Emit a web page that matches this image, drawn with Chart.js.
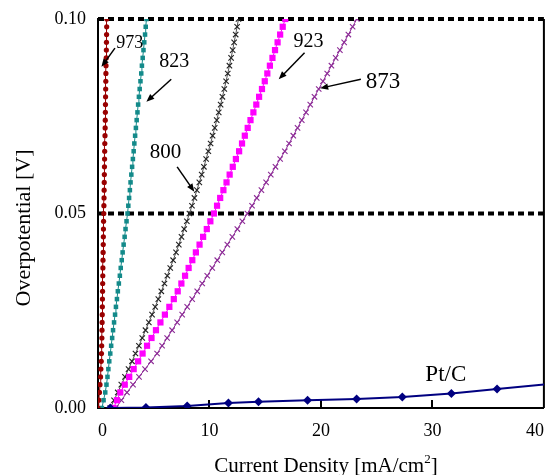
<!DOCTYPE html>
<html>
<head>
<meta charset="utf-8">
<title>Overpotential vs current density</title>
<script src="https://cdn.jsdelivr.net/npm/chart.js@4.4.1/dist/chart.umd.min.js"></script>
<style>
    html, body { margin: 0; padding: 0; background: #fff; }
    #wrap { width: 549px; height: 475px; }
</style>
</head>
<body>
<div id="wrap"><canvas id="polChart" width="549" height="475"></canvas></div>
<script>
// Overpotential grid (V) shared by the measured curves
const eta = [0, 0.002, 0.004, 0.006, 0.008, 0.010, 0.012, 0.014, 0.016, 0.018,
    0.020, 0.022, 0.024, 0.026, 0.028, 0.030, 0.032, 0.034, 0.036, 0.038,
    0.040, 0.042, 0.044, 0.046, 0.048, 0.050, 0.052, 0.054, 0.056, 0.058,
    0.060, 0.062, 0.064, 0.066, 0.068, 0.070, 0.072, 0.074, 0.076, 0.078,
    0.080, 0.082, 0.084, 0.086, 0.088, 0.090, 0.092, 0.094, 0.096, 0.098, 0.100];

// Current density (mA/cm2) at each overpotential
const j973 = [0, 0.07, 0.13, 0.18, 0.23, 0.26, 0.29, 0.31, 0.33, 0.35,
    0.36, 0.37, 0.38, 0.39, 0.40, 0.41, 0.42, 0.43, 0.44, 0.45,
    0.46, 0.47, 0.48, 0.49, 0.50, 0.52, 0.53, 0.54, 0.55, 0.56,
    0.57, 0.58, 0.59, 0.60, 0.61, 0.63, 0.64, 0.65, 0.66, 0.67,
    0.68, 0.69, 0.70, 0.71, 0.72, 0.74, 0.75, 0.76, 0.77, 0.78, 0.79];

const j823 = [0.35, 0.50, 0.65, 0.76, 0.85, 0.93, 1.01, 1.10, 1.18, 1.27,
    1.35, 1.44, 1.53, 1.61, 1.70, 1.78, 1.87, 1.96, 2.04, 2.13,
    2.21, 2.30, 2.39, 2.47, 2.56, 2.65, 2.72, 2.79, 2.86, 2.92,
    2.99, 3.06, 3.13, 3.20, 3.26, 3.33, 3.40, 3.47, 3.54, 3.60,
    3.67, 3.74, 3.81, 3.88, 3.94, 4.01, 4.08, 4.15, 4.22, 4.28, 4.35];

const j800 = [1.10, 1.44, 1.77, 2.09, 2.42, 2.74, 3.05, 3.36, 3.67, 3.97,
    4.26, 4.56, 4.85, 5.13, 5.41, 5.68, 5.96, 6.22, 6.48, 6.74,
    7.00, 7.25, 7.49, 7.73, 7.97, 8.20, 8.43, 8.65, 8.87, 9.09,
    9.30, 9.50, 9.70, 9.90, 10.10, 10.28, 10.47, 10.65, 10.83, 11.00,
    11.16, 11.33, 11.49, 11.64, 11.79, 11.94, 12.08, 12.21, 12.35, 12.48, 12.60];

const j923 = [1.4, 1.7, 2.0, 2.4, 2.8, 3.2, 3.6, 4.0, 4.4, 4.8,
    5.2, 5.6, 6.0, 6.4, 6.8, 7.15, 7.48, 7.81, 8.13, 8.46,
    8.78, 9.11, 9.43, 9.76, 10.08, 10.4, 10.68, 10.96, 11.25, 11.53,
    11.81, 12.09, 12.37, 12.66, 12.92, 13.17, 13.43, 13.68, 13.94, 14.2,
    14.45, 14.71, 14.96, 15.19, 15.42, 15.65, 15.88, 16.11, 16.34, 16.57, 16.8];

const j873 = [1.6, 2.1, 2.6, 3.14, 3.68, 4.22, 4.76, 5.3, 5.75, 6.2,
    6.65, 7.1, 7.55, 8.0, 8.45, 8.9, 9.35, 9.8, 10.25, 10.7,
    11.15, 11.6, 12.05, 12.5, 12.95, 13.4, 13.82, 14.24, 14.66, 15.08,
    15.5, 15.92, 16.34, 16.76, 17.14, 17.52, 17.9, 18.28, 18.66, 19.04,
    19.42, 19.8, 20.18, 20.56, 20.94, 21.32, 21.7, 22.08, 22.46, 22.84, 23.22];

// Pt/C benchmark
const jPtC = [1.1, 4.3, 8.0, 11.7, 14.4, 18.8, 23.2, 27.3, 31.7, 35.8, 41.0];
const etaPtC = [0, 0.0001, 0.0005, 0.0013, 0.0016, 0.0020, 0.0023, 0.0028, 0.0037, 0.0049, 0.0063];

const xTicks = [0, 10, 20, 30, 40];
const yTicks = [0, 0.05, 0.10];
// dashed guide lines
const guideLevels = [0.05, 0.10];

// Curve labels with their arrows, in data units
const callouts = [
    { text: '973', size: 18, at: [2.85, 0.0938], from: [1.52, 0.0925], to: [0.31, 0.0877] },
    { text: '823', size: 20, at: [6.83, 0.0890], from: [6.57, 0.0845], to: [4.34, 0.0787] },
    { text: '800', size: 21, at: [6.06, 0.0658], from: [7.10, 0.0620], to: [8.64, 0.0556] },
    { text: '923', size: 20, at: [18.89, 0.0941], from: [18.53, 0.0913], to: [16.21, 0.0845] },
    { text: '873', size: 23, at: [25.57, 0.0837], from: [23.58, 0.0845], to: [19.93, 0.0822] },
    { text: 'Pt/C', size: 23, at: [31.2, 0.0085] }
];

const FONT = '"Liberation Serif", "Times New Roman", serif';

document.addEventListener('DOMContentLoaded', function() {
    const ctx = document.getElementById('polChart').getContext('2d');

    // pair up x and y arrays into scatter points
    function toPoints(xs, ys) {
        return xs.map((x, i) => ({ x: x, y: ys[i] }));
    }

    function curve(label, xs, ys, color, style, radius, lineColor) {
        const crossy = style === 'crossRot';
        return {
            label: label,
            data: toPoints(xs, ys),
            showLine: true,
            borderColor: lineColor || color,
            borderWidth: 1,
            pointStyle: style,
            pointRadius: radius,
            pointBackgroundColor: color,
            pointBorderColor: color,
            pointBorderWidth: crossy ? 1.1 : 0
        };
    }

    function guide(level) {
        return {
            label: 'guide ' + level,
            data: [{ x: xTicks[0], y: level }, { x: xTicks[xTicks.length - 1], y: level }],
            showLine: true,
            clip: false,
            borderColor: '#000',
            borderWidth: 4,
            borderDash: [6, 4],
            pointRadius: 0
        };
    }

    function drawArrow(c, x1, y1, x2, y2) {
        const ang = Math.atan2(y2 - y1, x2 - x1);
        const len = 8, half = 3.2;
        c.beginPath();
        c.moveTo(x1, y1);
        c.lineTo(x2 - Math.cos(ang) * len * 0.8, y2 - Math.sin(ang) * len * 0.8);
        c.stroke();
        c.beginPath();
        c.moveTo(x2, y2);
        c.lineTo(x2 - Math.cos(ang) * len + Math.sin(ang) * half, y2 - Math.sin(ang) * len - Math.cos(ang) * half);
        c.lineTo(x2 - Math.cos(ang) * len - Math.sin(ang) * half, y2 - Math.sin(ang) * len + Math.cos(ang) * half);
        c.closePath();
        c.fill();
    }

    // keep tick labels from pushing the plot area inward
    function noEdgePadding(scale) {
        scale.paddingLeft = 0;
        scale.paddingRight = 0;
        scale.paddingTop = 0;
        scale.paddingBottom = 0;
    }

    const decorations = {
        id: 'decorations',
        beforeDatasetsDraw(chart) {
            const c = chart.ctx, a = chart.chartArea, x = chart.scales.x;
            c.save();
            c.strokeStyle = '#000';
            c.lineWidth = 2;
            c.beginPath();
            // right frame edge
            c.moveTo(a.right, a.top);
            c.lineTo(a.right, a.bottom);
            // inward tick marks on the x axis
            xTicks.slice(1, -1).forEach(v => {
                const px = Math.round(x.getPixelForValue(v));
                c.moveTo(px, a.bottom);
                c.lineTo(px, a.bottom - 8);
            });
            c.stroke();
            c.restore();
        },
        afterDatasetsDraw(chart) {
            const c = chart.ctx, x = chart.scales.x, y = chart.scales.y;
            c.save();
            c.fillStyle = '#000';
            c.strokeStyle = '#000';
            c.lineWidth = 1.5;
            callouts.forEach(item => {
                c.font = item.size + 'px ' + FONT;
                c.textAlign = 'center';
                c.textBaseline = 'middle';
                c.fillText(item.text, x.getPixelForValue(item.at[0]), y.getPixelForValue(item.at[1]));
                if (item.from) {
                    drawArrow(c,
                        x.getPixelForValue(item.from[0]), y.getPixelForValue(item.from[1]),
                        x.getPixelForValue(item.to[0]), y.getPixelForValue(item.to[1]));
                }
            });
            c.restore();
        },
        afterDraw(chart) {
            const c = chart.ctx, a = chart.chartArea;
            c.save();
            c.fillStyle = '#000';

            // x axis title with superscript
            const main = 'Current Density [mA/cm';
            c.font = '21px ' + FONT;
            const wMain = c.measureText(main).width;
            const wClose = c.measureText(']').width;
            c.font = '13px ' + FONT;
            const wSup = c.measureText('2').width;
            let tx = (a.left + a.right) / 2 + 5 - (wMain + wSup + wClose) / 2;
            const ty = 472;
            c.textAlign = 'left';
            c.textBaseline = 'alphabetic';
            c.font = '21px ' + FONT;
            c.fillText(main, tx, ty);
            tx += wMain;
            c.font = '13px ' + FONT;
            c.fillText('2', tx, ty - 9);
            tx += wSup;
            c.font = '21px ' + FONT;
            c.fillText(']', tx, ty);

            // y axis title
            c.translate(30, 228);
            c.rotate(-Math.PI / 2);
            c.font = '22px ' + FONT;
            c.textAlign = 'center';
            c.fillText('Overpotential [V]', 0, 0);
            c.restore();
        }
    };

    const chart = new Chart(ctx, {
        type: 'scatter',
        data: {
            datasets: [
                {
                    label: 'Pt/C',
                    data: toPoints(jPtC, etaPtC),
                    showLine: true,
                    borderColor: '#000080',
                    borderWidth: 2,
                    pointStyle: 'rectRot',
                    pointRadius: 4.5,
                    pointBackgroundColor: '#000080',
                    pointBorderWidth: 0
                },
                curve('973', j973, eta, '#990000', 'circle', 2.6),
                curve('823', j823, eta, '#138a8a', 'rect', 3.2),
                curve('923', j923, eta, '#ff00ff', 'rect', 4.4),
                curve('873', j873, eta, '#8c2a96', 'crossRot', 3.8),
                curve('800', j800, eta, '#222222', 'crossRot', 3.8, '#555555'),
                ...guideLevels.map(guide)
            ]
        },
        options: {
            responsive: false,
            animation: false,
            events: [],
            layout: { padding: { left: 0, top: 19, right: 2, bottom: 0 } },
            plugins: {
                legend: { display: false },
                tooltip: { enabled: false }
            },
            elements: { line: { tension: 0 } },
            scales: {
                x: {
                    type: 'linear',
                    min: xTicks[0],
                    max: xTicks[xTicks.length - 1],
                    afterBuildTicks: axis => { axis.ticks = xTicks.map(v => ({ value: v })); },
                    afterFit: scale => { scale.height = 67; noEdgePadding(scale); },
                    grid: { drawOnChartArea: false, drawTicks: false },
                    border: { display: true, color: '#000', width: 2 },
                    ticks: {
                        align: 'inner',
                        maxRotation: 0,
                        padding: 12,
                        color: '#000',
                        font: { family: FONT, size: 18 }
                    }
                },
                y: {
                    type: 'linear',
                    min: yTicks[0],
                    max: yTicks[yTicks.length - 1],
                    afterBuildTicks: axis => { axis.ticks = yTicks.map(v => ({ value: v })); },
                    afterFit: scale => { scale.width = 98; noEdgePadding(scale); },
                    grid: { drawOnChartArea: false, drawTicks: false },
                    border: { display: true, color: '#000', width: 2 },
                    ticks: {
                        padding: 12,
                        color: '#000',
                        font: { family: FONT, size: 18 },
                        callback: v => v.toFixed(2)
                    }
                }
            }
        },
        plugins: [decorations]
    });
});
</script>
</body>
</html>
